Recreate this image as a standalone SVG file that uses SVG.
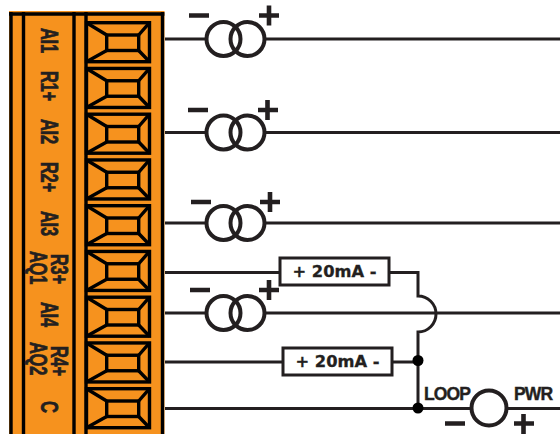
<svg xmlns="http://www.w3.org/2000/svg" width="560" height="434" viewBox="0 0 560 434">
<style>
.w{fill:none;stroke:#231f20;stroke-width:3}
.c{fill:none;stroke:#231f20;stroke-width:4}
.s{fill:none;stroke:#231f20;stroke-width:4.600}
.b{fill:none;stroke:#000;stroke-width:3.400}
.t{font-family:"Liberation Sans",Arial,sans-serif;font-weight:bold;fill:#231f20;stroke:#231f20}
.l{font-size:16.500px;stroke-width:.5;letter-spacing:-.3px}
.m{font-size:15px;font-family:"DejaVu Sans",sans-serif;stroke-width:.3}
.p{font-size:17.500px;letter-spacing:-.9px;stroke-width:.4}
</style>
<defs>
<g id="term">
<rect x="86.500" y="1.700" width="63" height="39" class="b"/>
<rect x="106.700" y="14" width="32" height="15.500" class="b"/>
<path d="M86.500 1.700L106.700 14M149.500 1.700L138.700 14M86.500 40.700L106.700 29.500M149.500 40.700L138.700 29.500" class="b"/>
</g>
<g id="src">
<circle cx="223.500" cy="0" r="17" class="c"/>
<circle cx="247.500" cy="0" r="17" class="c"/>
</g>
</defs>
<g id="block">
<rect x="9" y="11" width="155.500" height="430" fill="#f6921e"/>
<path d="M9 14H164.500M11 12V434M162.500 12V434M23.500 12V434M74 12V434M86 12V434" fill="none" stroke="#000" stroke-width="3.400"/>
</g>
<g id="terminals">
<use href="#term" y="21"/><use href="#term" y="66.750"/><use href="#term" y="112.500"/><use href="#term" y="158.250"/><use href="#term" y="204"/><use href="#term" y="249.750"/><use href="#term" y="295.500"/><use href="#term" y="341.250"/><use href="#term" y="387"/>
</g>
<g id="labels">
<text class="t l" transform="translate(41,28) rotate(90) scale(1,1.400)">AI1</text>
<text class="t l" transform="translate(41,71) rotate(90) scale(1,1.400)">R1+</text>
<text class="t l" transform="translate(41,119) rotate(90) scale(1,1.400)">AI2</text>
<text class="t l" transform="translate(41,162) rotate(90) scale(1,1.400)">R2+</text>
<text class="t l" transform="translate(41,211) rotate(90) scale(1,1.400)">AI3</text>
<text class="t l" transform="translate(51,254) rotate(90) scale(1,1.400)">R3+</text>
<text class="t l" transform="translate(29.500,251) rotate(90) scale(1,1.400)">AQ1</text>
<text class="t l" transform="translate(41,302) rotate(90) scale(1,1.400)">AI4</text>
<text class="t l" transform="translate(51,346) rotate(90) scale(1,1.400)">R4+</text>
<text class="t l" transform="translate(29.500,342) rotate(90) scale(1,1.400)">AQ2</text>
<text class="t l" transform="translate(41,401) rotate(90) scale(1,1.400)">C</text>
</g>
<g id="connectors">
<path d="M165 39H206M265 39H560M165 132.500H206M265 132.500H560M165 223H206M265 223H560M165 272.500H279M389 272.500H418V296A18 18 0 0 1 418 332V408M165 313H206M265 313H560M165 362H282M393 362H418M165 408.500H471M507 408.500H560" class="w"/>
<circle cx="418" cy="360.500" r="5.500" fill="#000"/>
<circle cx="418" cy="408" r="5.500" fill="#000"/>
</g>
<g id="source1"><use href="#src" y="39"/><path d="M189 15.500H209M259 15.500H279M269 5.500V25.500" class="s"/></g>
<g id="source2"><use href="#src" y="132.500"/><path d="M188 110H208M258 110H278M267.500 100V120" class="s"/></g>
<g id="source3"><use href="#src" y="223"/><path d="M191 202H211M260 202H280M270 192V212" class="s"/></g>
<g id="source4"><use href="#src" y="313"/><path d="M190 290H210M259 290H279M269 280V300" class="s"/></g>
<g id="meter1"><rect x="280" y="258" width="109" height="27" fill="#fff" stroke="#231f20" stroke-width="3"/><text class="t m" x="334.500" y="277" text-anchor="middle" textLength="84" lengthAdjust="spacingAndGlyphs">+ 20mA -</text></g>
<g id="meter2"><rect x="283" y="348" width="109" height="27" fill="#fff" stroke="#231f20" stroke-width="3"/><text class="t m" x="337.500" y="367" text-anchor="middle" textLength="84" lengthAdjust="spacingAndGlyphs">+ 20mA -</text></g>
<g id="load">
<circle cx="489" cy="408" r="17.500" fill="#fff" stroke="#231f20" stroke-width="4"/>
<text class="t p" x="424" y="399.500">LOOP</text>
<text class="t p" x="514" y="399.500">PWR</text>
<path d="M445 423.500H465M514 423.500H534M523.500 414V434" class="s"/>
</g>
</svg>
